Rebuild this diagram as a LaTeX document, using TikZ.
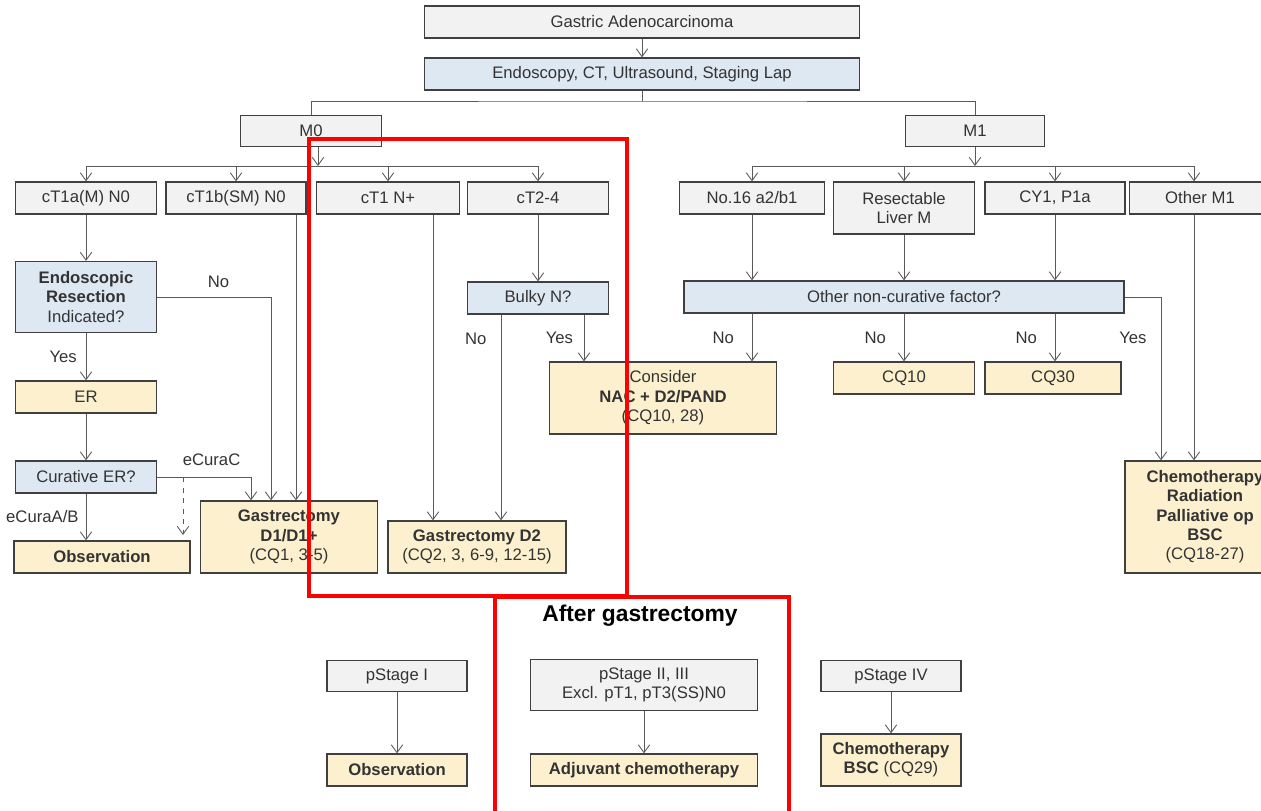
\documentclass[tikz,border=0pt]{standalone}
\usepackage{fontspec}
\setmainfont{Liberation Sans}
\usepackage{xcolor}
\usepackage{tikz}
\usetikzlibrary{arrows.meta}
\definecolor{stagegray}{HTML}{F2F2F2}
\definecolor{askblue}{HTML}{DEE8F3}
\definecolor{careyellow}{HTML}{FCF0CF}
\definecolor{edge}{HTML}{404040}
\definecolor{wire}{HTML}{5A5A5A}
\definecolor{ink}{HTML}{333333}
\definecolor{hilite}{HTML}{FF0000}

\begin{document}
\begin{tikzpicture}[x=0.02cm,y=-0.02cm,
        every node/.style={font=\fontsize{9.5}{11}\selectfont,align=center,text=ink},
        sz/.style 2 args={minimum width=#1*0.02cm,minimum height=#2*0.02cm},
        box/.style={draw=edge,line width=0.7pt,inner sep=1pt},
        stagebox/.style={box,fill=stagegray},
        askbox/.style={box,fill=askblue},
        carebox/.style={box,fill=careyellow},
        lab/.style={inner sep=2pt},
        wireline/.style={draw=wire,line width=0.5pt},
        arr/.style={wireline,-{Straight Barb[length=4.5pt,width=6.5pt]}},
      ]
      \useasboundingbox (0,0) rectangle (1261,811);
      \node[stagebox,sz={435}{32}] (gastric) at (642,22) {Gastric Adenocarcinoma};
      \node[askbox,sz={435}{32}] (staging) at (642,74) {Endoscopy, CT, Ultrasound, Staging Lap};
      \node[stagebox,sz={141}{31}] (mzero) at (311,131) {M0};
      \node[stagebox,sz={139}{31}] (mone) at (975,131) {M1};
      \node[stagebox,sz={141}{32}] (ta) at (86,198) {cT1a(M) N0};
      \node[stagebox,sz={140}{32}] (tb) at (236,198) {cT1b(SM) N0};
      \node[stagebox,sz={143}{32}] (tn) at (388,198) {cT1 N+};
      \node[stagebox,sz={141}{32}] (tf) at (538,198) {cT2-4};
      \node[stagebox,sz={145}{32}] (pan) at (752,198) {No.16 a2/b1};
      \node[stagebox,sz={141}{52}] (liv) at (904,208) {Resectable\\Liver M};
      \node[stagebox,sz={140}{32}] (cy) at (1055,198) {CY1, P1a};
      \node[stagebox,sz={141}{32}] (oth) at (1200,198) {Other M1};
      \node[askbox,sz={141}{71}] (erq) at (86,297) {\textbf{Endoscopic}\\\textbf{Resection}\\Indicated?};
      \node[carebox,sz={141}{32}] (er) at (86,397) {ER};
      \node[askbox,sz={141}{32}] (cur) at (86,477) {Curative ER?};
      \node[carebox,sz={176}{32}] (obs) at (102,557) {\textbf{Observation}};
      \node[carebox,sz={177}{72}] (done) at (289,537) {\textbf{Gastrectomy}\\\textbf{D1/D1+}\\(CQ1, 3-5)};
      \node[carebox,sz={178}{52}] (dtwo) at (477,547) {\textbf{Gastrectomy D2}\\(CQ2, 3, 6-9, 12-15)};
      \node[askbox,sz={141}{32}] (bulky) at (538,298) {Bulky N?};
      \node[carebox,sz={227}{72}] (nac) at (663,398) {Consider\\\textbf{NAC + D2/PAND}\\(CQ10, 28)};
      \node[askbox,sz={440}{32}] (noncur) at (904,297) {Other non-curative factor?};
      \node[carebox,sz={141}{32}] (cqten) at (904,378) {CQ10};
      \node[carebox,sz={136}{32}] (cqthirty) at (1053,378) {CQ30};
      \node[carebox,sz={160}{112}] (chemo) at (1205,517) {\textbf{Chemotherapy}\\\textbf{Radiation}\\\textbf{Palliative op}\\\textbf{BSC}\\(CQ18-27)};
      \node[font=\bfseries\fontsize{13}{15}\selectfont,text=black] (after) at (640,616) {After gastrectomy};
      \node[stagebox,sz={140}{31}] (psone) at (397,676) {pStage I};
      \node[carebox,sz={140}{32}] (obstwo) at (397,770) {\textbf{Observation}};
      \node[stagebox,sz={227}{51}] (pstt) at (644,685) {pStage II, III\\Excl. pT1, pT3(SS)N0};
      \node[carebox,sz={227}{32}] (adj) at (644,770) {\textbf{Adjuvant chemotherapy}};
      \node[stagebox,sz={140}{31}] (psfour) at (891,676) {pStage IV};
      \node[carebox,sz={140}{52}] (chemobsc) at (891,760) {\textbf{Chemotherapy}\\\textbf{BSC} (CQ29)};
      \coordinate (split) at (642,101);
      \coordinate (mzbar) at (318,166);
      \coordinate (mobar) at (975,166);
      \coordinate (nox) at (271,0);
      \coordinate (tbx) at (296,0);
      \coordinate (ecx) at (251,0);
      \coordinate (dashtop) at (183,477);
      \coordinate (dashend) at (183,535);
      \coordinate (tnx) at (433,0);
      \coordinate (bnx) at (501,0);
      \coordinate (byx) at (584,0);
      \coordinate (yesx) at (1161,0);
      \coordinate (othx) at (1194,0);
      \draw[arr] (gastric) -- (staging);
      \draw[wireline] (staging) -- (split);
      \draw[wireline] (mzero.north) |- (split) -| (mone.north);
      \draw[arr] (mzero.south -| mzbar) -- (mzbar);
      \draw[wireline] (ta.north |- mzbar) -- (tf.north |- mzbar);
      \foreach \n in {ta,tb,tn,tf} \draw[arr] (\n.north |- mzbar) -- (\n.north);
      \draw[arr] (mone.south) -- (mobar);
      \draw[wireline] (pan.north |- mobar) -- (othx |- mobar);
      \foreach \n in {pan,liv,cy} \draw[arr] (\n.north |- mobar) -- (\n.north);
      \draw[arr] (othx |- mobar) -- (oth.north -| othx);
      \draw[arr] (ta) -- (erq);
      \draw[arr] (erq) -- node[lab,left=3pt]{Yes} (er);
      \draw[arr] (er) -- (cur);
      \draw[arr] (cur.south) -- node[lab,left=2pt]{eCuraA/B} (cur.south |- obs.north);
      \draw[arr] (erq.east) -| node[lab,pos=0.27,above=3pt]{No} (done.north -| nox);
      \draw[arr] (tb.south -| tbx) -- (done.north -| tbx);
      \draw[arr] (cur.east) -| node[lab,pos=0.29,above=4pt]{eCuraC} (done.north -| ecx);
      \draw[arr,dashed] (dashtop) -- (dashend);
      \draw[arr] (tn.south -| tnx) -- (dtwo.north -| tnx);
      \draw[arr] (tf) -- (bulky);
      \draw[arr] (bulky.south -| bnx) -- node[lab,pos=0.12,left=6pt]{No} (dtwo.north -| bnx);
      \draw[arr] (bulky.south -| byx) -- node[lab,left=4pt]{Yes} (nac.north -| byx);
      \foreach \n in {pan,liv,cy} \draw[arr] (\n.south) -- (\n.south |- noncur.north);
      \draw[arr] (noncur.south -| pan) -- node[lab,left=8pt]{No} (nac.north -| pan);
      \draw[arr] (noncur.south -| liv) -- node[lab,left=8pt]{No} (cqten.north -| liv);
      \draw[arr] (noncur.south -| cy) -- node[lab,left=8pt]{No} (cqthirty.north -| cy);
      \draw[arr] (noncur.east) -| node[lab,pos=0.625,left=6pt]{Yes} (chemo.north -| yesx);
      \draw[arr] (oth.south -| othx) -- (chemo.north -| othx);
      \draw[arr] (psone) -- (obstwo);
      \draw[arr] (pstt) -- (adj);
      \draw[arr] (psfour) -- (chemobsc);
      \draw[hilite,line width=2.2pt] (309,139) rectangle (627,596);
      \draw[hilite,line width=2.2pt] (495,830) |- (789,597) -- (789,830);
    \end{tikzpicture}
\end{document}
